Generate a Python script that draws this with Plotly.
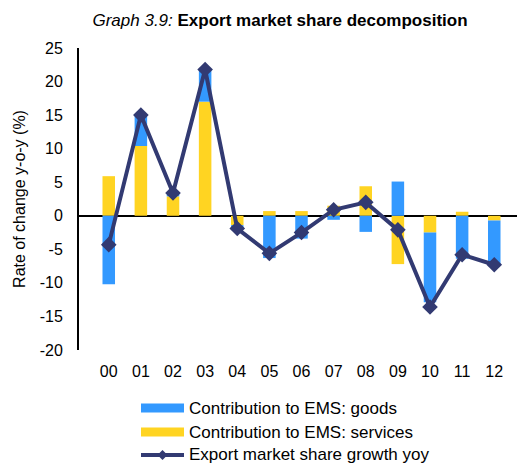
import plotly.graph_objects as go

years = ["00", "01", "02", "03", "04", "05", "06", "07", "08", "09", "10", "11", "12"]
goods = [-10.2, 4.6, 0.5, 4.8, -0.4, -6.3, -3.4, -0.6, -2.4, 5.1, -10.4, -6.4, -6.6]
services = [5.9, 10.4, 2.9, 17.0, -1.4, 0.7, 0.7, 1.5, 4.4, -7.2, -2.5, 0.6, -0.7]
ems_growth = [-4.3, 15.0, 3.4, 21.8, -1.9, -5.6, -2.5, 0.9, 2.0, -2.1, -13.6, -5.8, -7.3]
ytick_vals = [-20, -15, -10, -5, 0, 5, 10, 15, 20, 25]
ytick_text = ["-20", "-15", "-10", "-5", "0", "5", "10", "15", "20", "25"]
legend_names = ["Contribution to EMS: goods", "Contribution to EMS: services",
                "Export market share growth yoy"]

BLUE = "#3399FF"
YELLOW = "#FFD422"
NAVY = "#323A72"
FONT = "Liberation Sans, Arial, sans-serif"

# the page body adds an 8px margin; lay out in screen pixels and shift
OFF = 8
W, H = 525 - OFF, 466 - OFF
L, R, T, B = 79 - OFF, 524 - OFF, 48 - OFF, 350 - OFF
PW, PH = R - L, B - T

def px(x):
    return (x - OFF - L) / PW

def py(y):
    return (B - (y - OFF)) / PH

fig = go.Figure()
fig.add_trace(go.Bar(x=years, y=services, marker=dict(color=YELLOW, line=dict(width=0)),
                     name=legend_names[1], showlegend=False))
fig.add_trace(go.Bar(x=years, y=goods, marker=dict(color=BLUE, line=dict(width=0)),
                     name=legend_names[0], showlegend=False))
fig.add_trace(go.Scatter(x=years, y=ems_growth, mode="lines+markers",
                         line=dict(color=NAVY, width=4),
                         marker=dict(symbol="diamond", size=12, color=NAVY),
                         name=legend_names[2], showlegend=False))

# custom legend (symbols as shapes, labels as annotations), screen pixel positions
rows = [408, 432, 455]
sym_x0, sym_x1, txt_x = 141, 184, 187
shapes = []
annotations = []
colors = [BLUE, YELLOW, NAVY]
widths = [9, 9, 4]
for name, yy, c, w in zip(legend_names, rows, colors, widths):
    shapes.append(dict(type="line", xref="paper", yref="paper",
                       x0=px(sym_x0), x1=px(sym_x1), y0=py(yy), y1=py(yy),
                       line=dict(color=c, width=w)))
    annotations.append(dict(text=name, xref="paper", yref="paper", x=px(txt_x), y=py(yy),
                            xanchor="left", yanchor="middle", showarrow=False,
                            font=dict(size=17, family=FONT, color="black")))
cx, cy, d = (sym_x0 + sym_x1) / 2, rows[2], 5
shapes.append(dict(type="path", xref="paper", yref="paper",
                   path=f"M {px(cx - d)} {py(cy)} L {px(cx)} {py(cy - d)} L {px(cx + d)} {py(cy)} L {px(cx)} {py(cy + d)} Z",
                   fillcolor=NAVY, line=dict(width=0)))

fig.update_layout(
    width=W, height=H,
    margin=dict(l=L, r=W - R, t=T, b=H - B, autoexpand=False),
    paper_bgcolor="white", plot_bgcolor="white",
    font=dict(family=FONT, size=16, color="black"),
    barmode="relative", bargap=0.61,
    title=dict(text="<i>Graph 3.9:</i> <b>Export market share decomposition</b>",
               x=(280 - OFF) / W, xref="container", xanchor="center",
               y=1 - (20 - OFF) / H, yref="container", yanchor="middle",
               font=dict(size=17, family=FONT)),
    showlegend=False,
    shapes=shapes,
    annotations=annotations,
)
fig.update_xaxes(showline=False, showgrid=False, ticks="outside", ticklen=0,
                 ticklabelstandoff=7, tickfont=dict(size=16), automargin=False)
fig.update_yaxes(range=[-20, 25], tickmode="array", tickvals=ytick_vals, ticktext=ytick_text,
                 showgrid=False, showline=True,
                 linecolor="black", linewidth=2, ticks="", zeroline=True,
                 zerolinecolor="black", zerolinewidth=2, ticklabelstandoff=11,
                 tickfont=dict(size=16), automargin=False,
                 title=dict(text="Rate of change y-o-y (%)", standoff=10,
                            font=dict(size=16)))

fig.write_html("out.html")
